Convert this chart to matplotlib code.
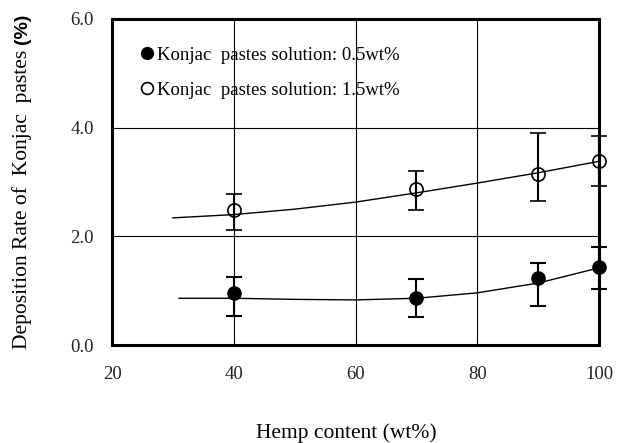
import matplotlib
matplotlib.use("Agg")
import matplotlib.pyplot as plt
from matplotlib.lines import Line2D

# Data
hemp = [40, 70, 90, 100]
low_vals = [0.96, 0.87, 1.23, 1.44]
low_err_up = [0.29, 0.34, 0.28, 0.36]
low_err_dn = [0.42, 0.36, 0.52, 0.41]
high_vals = [2.49, 2.87, 3.15, 3.38]
high_err_up = [0.29, 0.33, 0.75, 0.47]
high_err_dn = [0.37, 0.39, 0.50, 0.45]

# trend curves
low_curve_x = [31, 40, 50, 60, 70, 80, 90, 100]
low_curve_y = [0.86, 0.86, 0.84, 0.83, 0.86, 0.96, 1.14, 1.42]
high_curve_x = [30, 40, 50, 60, 70, 80, 90, 100]
high_curve_y = [2.34, 2.40, 2.50, 2.63, 2.80, 2.98, 3.17, 3.38]

xticks = [20, 40, 60, 80, 100]
yticks = [0.0, 2.0, 4.0, 6.0]
legend_labels = ["Konjac  pastes solution: 0.5wt%", "Konjac  pastes solution: 1.5wt%"]

plt.rcParams['font.family'] = ['Liberation Serif', 'DejaVu Serif']

W, H = 630, 443
fig = plt.figure(figsize=(W/100, H/100), dpi=100)
ax = fig.add_axes([112/W, 1-345/H, (599-112)/W, (345-19)/H])

ax.set_xlim(20, 100)
ax.set_ylim(0, 6)
ax.set_xticks(xticks)
ax.set_yticks(yticks)
ax.set_xticklabels([str(v) for v in xticks])
ax.set_yticklabels([f"{v:.1f}" for v in yticks])
ax.tick_params(length=0, labelsize=13.5, colors='#222222')
ax.tick_params(axis='x', pad=15)
ax.tick_params(axis='y', pad=13)
ax.grid(True, color='black', linewidth=0.8)
ax.set_axisbelow(True)
for s in ax.spines.values():
    s.set_linewidth(2.2)
    s.set_color('black')

ax.plot(low_curve_x, low_curve_y, color='black', lw=1.0, zorder=2)
ax.plot(high_curve_x, high_curve_y, color='black', lw=1.0, zorder=2)

ax.errorbar(hemp, low_vals, yerr=[low_err_dn, low_err_up], fmt='o', color='black',
            markersize=9.5, capsize=5.5, elinewidth=1.5, capthick=1.5, zorder=3, clip_on=False)
ax.errorbar(hemp, high_vals, yerr=[high_err_dn, high_err_up], fmt='o', color='black',
            markerfacecolor='none', markeredgewidth=1.2,
            markersize=9.5, capsize=5.5, elinewidth=1.5, capthick=1.5, zorder=3, clip_on=False)

handles = [Line2D([], [], marker='o', color='black', linestyle='none', markersize=8.5),
           Line2D([], [], marker='o', color='black', markerfacecolor='white',
                  markeredgewidth=1.2, linestyle='none', markersize=8.5)]
ax.legend(handles, legend_labels, loc='upper left', bbox_to_anchor=(0.025, 0.955), frameon=False,
          fontsize=13.5, handletextpad=0.05, handlelength=1.0, labelspacing=0.95, borderaxespad=0.3)

fig.text(346/W, 1-433/H, "Hemp content (wt%)", ha='center', va='center', fontsize=15.5)

yl = fig.text(22/W, 1-349/H, "Deposition Rate of  Konjac  pastes ", rotation=90,
              ha='center', va='bottom', fontsize=15.5)
fig.canvas.draw()
bb = yl.get_window_extent()
inv = fig.transFigure.inverted()
x0, y0 = inv.transform((bb.x0, bb.y0))
x1, y1 = inv.transform((bb.x1, bb.y1))
fig.text((x0 + x1) / 2, y1, "(%)", rotation=90, ha='center', va='bottom',
         fontsize=14, fontweight='bold', family='Liberation Sans')

fig.savefig("out.png", dpi=100)
